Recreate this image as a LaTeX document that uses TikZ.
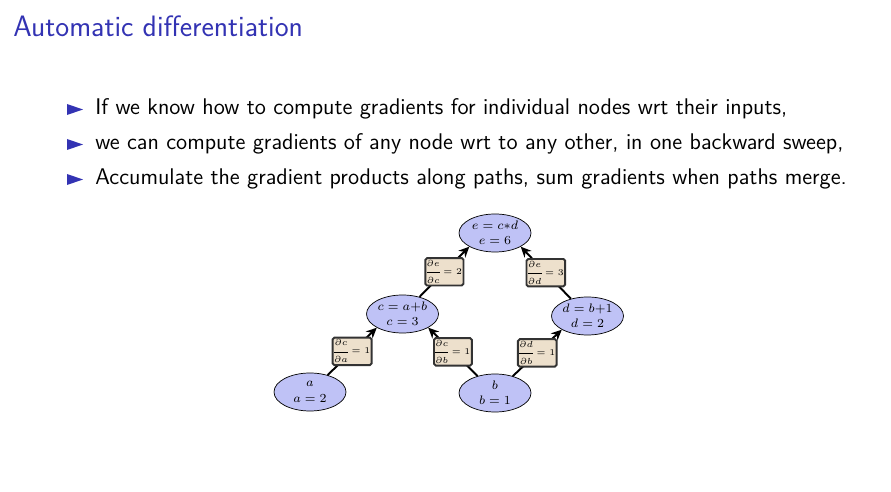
\documentclass[tikz,border=0pt]{standalone}
\usepackage{amsmath}
\usetikzlibrary{shapes.geometric,arrows.meta}

\definecolor{structure}{RGB}{51,51,179}
\definecolor{varblue}{RGB}{191,194,246}
\definecolor{gradtan}{RGB}{237,224,204}
\setlength{\nulldelimiterspace}{0pt}

\begin{document}
\begin{tikzpicture}[
  x=0.02cm, y=-0.02cm,
  var/.style={ellipse, draw=black, fill=varblue, align=center, inner sep=0pt,
    minimum width=1.44cm, minimum height=0.76cm, font=\fontsize{7.1}{8.8}\selectfont},
  grad/.style={draw=black!80, fill=gradtan, rounded corners=1pt, inner xsep=0.8pt, inner ysep=1.2pt,
    font=\fontsize{5}{6}\selectfont},
  flow/.style={line width=1.1pt, -{Stealth[length=6pt,width=5.5pt]}},
  item/.style={anchor=base west, inner sep=0pt, font=\sffamily\fontsize{12.9}{15}\selectfont}
]
\useasboundingbox (0,0) rectangle (891,492);

% slide text:
\node[anchor=base west, inner sep=0pt, text=structure, font=\sffamily\fontsize{16.8}{19}\selectfont]
  (title) at (13,37) {Automatic differentiation};
\node[item] (item1) at (95,115)
  {If we know how to compute gradients for individual nodes wrt their inputs,};
\node[item] (item2) at (95,150)
  {we can compute gradients of any node wrt to any other, in one backward sweep,};
\node[item] (item3) at (95,185)
  {Accumulate the gradient products along paths, sum gradients when paths merge.};
\fill[structure] (67,104) -- (83,109.5) -- (67,115) -- cycle;
\fill[structure] (67,139) -- (83,144.5) -- (67,150) -- cycle;
\fill[structure] (67,174) -- (83,179.5) -- (67,185) -- cycle;

% graph:
\node[var] (e) at (495,233) {$e = c{*}d$\\$e = 6$};
\node[var] (c) at (402.5,314) {$c = a{+}b$\\$c = 3$};
\node[var] (d) at (587.5,316) {$d = b{+}1$\\$d = 2$};
\node[var] (a) at (310,392) {$a$\\$a = 2$};
\node[var] (b) at (495,393) {$b$\\$b = 1$};

\draw[flow] (a) -- node[grad] {$\dfrac{\partial c}{\partial a} = 1$} (c.south west);
\draw[flow] (b) -- node[grad] {$\dfrac{\partial c}{\partial b} = 1$} (c.south east);
\draw[flow] (b) -- node[grad] {$\dfrac{\partial d}{\partial b} = 1$} (d.south west);
\draw[flow] (c) -- node[grad] {$\dfrac{\partial e}{\partial c} = 2$} (e.south west);
\draw[flow] (d) -- node[grad] {$\dfrac{\partial e}{\partial d} = 3$} (e.south east);
\end{tikzpicture}
\end{document}
